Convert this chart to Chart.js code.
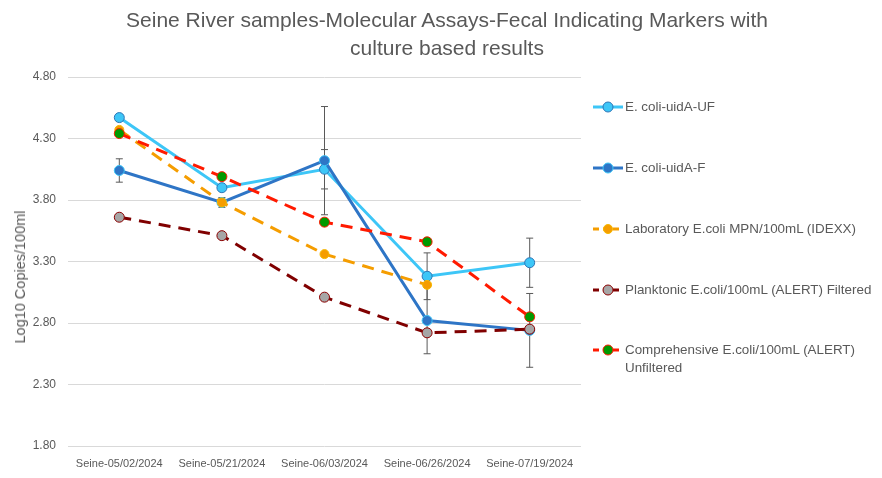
<!DOCTYPE html>
<html>
<head>
<meta charset="utf-8">
<script src="https://cdn.jsdelivr.net/npm/chart.js@4"></script>
<style>
  html, body { margin: 0; padding: 0; background: #fff; }
  #wrap { position: relative; width: 882px; height: 478px; }
  #title { position: absolute; left: 0; top: 6px; width: 894px; text-align: center; font-family: "Liberation Sans", Arial, sans-serif; font-size: 21px; line-height: 28px; color: #595959; }
  #ytitle { position: absolute; left: 20px; top: 277px; transform: translate(-50%, -50%) rotate(-90deg); white-space: nowrap; font-family: "Liberation Sans", Arial, sans-serif; font-size: 14.5px; color: #595959; }
  #legend { position: absolute; left: 593px; top: 0; font-family: "Liberation Sans", Arial, sans-serif; font-size: 13.4px; color: #595959; }
  .item { position: absolute; left: 0; display: flex; align-items: flex-start; white-space: nowrap; line-height: 18px; }
  .item svg { margin-top: 2px; margin-right: 2px; }
</style>
</head>
<body>
<div id="wrap">
  <canvas id="chart" width="882" height="478"></canvas>
  <div id="title">Seine River samples-Molecular Assays-Fecal Indicating Markers with<br>culture based results</div>
  <div id="ytitle">Log10 Copies/100ml</div>
  <div id="legend"></div>
</div>
<script>
// categories and series
const categories = ['Seine-05/02/2024', 'Seine-05/21/2024', 'Seine-06/03/2024', 'Seine-06/26/2024', 'Seine-07/19/2024'];
const ufValues = [4.47, 3.90, 4.05, 3.18, 3.29];
const fValues = [4.04, 3.78, 4.12, 2.82, 2.74];
const idexxValues = [4.37, 3.78, 3.36, 3.11, null];
const planktonicValues = [3.66, 3.51, 3.01, 2.72, 2.75];
const comprehensiveValues = [4.34, 3.99, 3.62, 3.46, 2.85];

// error bar half-widths (0 = none)
const ufErrors = [0, 0, 0.16, 0.19, 0.20];
const fErrors = [0.095, 0.04, 0.44, 0.27, 0.30];

const yTicks = [1.8, 2.3, 2.8, 3.3, 3.8, 4.3, 4.8];

const series = [
  { label: 'E. coli-uidA-UF', data: ufValues, errors: ufErrors, line: '#3DC6F7', fill: '#3DC6F7', edge: '#2E75B6', dash: [], r: 5 },
  { label: 'E. coli-uidA-F', data: fValues, errors: fErrors, line: '#2E75C6', fill: '#2E75C6', edge: '#3DC6F7', dash: [], r: 5 },
  { label: 'Laboratory E.coli MPN/100mL (IDEXX)', data: idexxValues, line: '#F59D00', fill: '#F59D00', edge: '#F5B800', dash: [12, 8], r: 4.5 },
  { label: 'Planktonic E.coli/100mL (ALERT) Filtered', data: planktonicValues, line: '#800000', fill: '#A6A6A6', edge: '#8B0000', dash: [12, 8], r: 5 },
  { label: ['Comprehensive E.coli/100mL (ALERT)', 'Unfiltered'], data: comprehensiveValues, line: '#FF1A00', fill: '#009A00', edge: '#FF1A00', dash: [12, 8], r: 5 }
];

const errorBars = {
  id: 'errorBars',
  beforeDatasetsDraw(chart) {
    const ctx = chart.ctx;
    const y = chart.scales.y;
    ctx.save();
    ctx.strokeStyle = '#595959';
    ctx.lineWidth = 1;
    chart.data.datasets.forEach((ds, i) => {
      if (!ds.errors) return;
      const meta = chart.getDatasetMeta(i);
      ds.errors.forEach((e, j) => {
        if (!e || ds.data[j] == null) return;
        const x = meta.data[j].x;
        const top = y.getPixelForValue(ds.data[j] + e);
        const bot = y.getPixelForValue(ds.data[j] - e);
        ctx.beginPath();
        ctx.moveTo(x, top); ctx.lineTo(x, bot);
        ctx.moveTo(x - 3.5, top); ctx.lineTo(x + 3.5, top);
        ctx.moveTo(x - 3.5, bot); ctx.lineTo(x + 3.5, bot);
        ctx.stroke();
      });
    });
    ctx.restore();
  }
};

const font = "'Liberation Sans', Arial, sans-serif";

new Chart(document.getElementById('chart').getContext('2d'), {
  type: 'line',
  data: {
    labels: categories,
    datasets: series.map(s => ({
      label: Array.isArray(s.label) ? s.label.join(' ') : s.label,
      data: s.data,
      errors: s.errors,
      borderColor: s.line,
      backgroundColor: s.fill,
      borderWidth: 3,
      borderDash: s.dash,
      pointBackgroundColor: s.fill,
      pointBorderColor: s.edge,
      pointBorderWidth: 1,
      pointRadius: s.r,
      tension: 0,
      spanGaps: false
    })).reverse()
  },
  options: {
    responsive: false,
    animation: false,
    layout: { padding: { left: 0, right: 301, top: 77, bottom: 0 } },
    plugins: {
      legend: { display: false },
      tooltip: { enabled: false },
      title: { display: false }
    },
    scales: {
      x: {
        offset: true,
        grid: { display: false },
        border: { display: false },
        afterFit(axis) { axis.height = 32; },
        ticks: { color: '#595959', font: { family: font, size: 11 }, maxRotation: 0, autoSkip: false, padding: 3 }
      },
      y: {
        min: 1.8,
        max: 4.8,
        afterBuildTicks(axis) { axis.ticks = yTicks.map(v => ({ value: v })); },
        afterFit(axis) { axis.width = 68; },
        grid: { color: '#D9D9D9', drawTicks: false },
        border: { display: false },
        ticks: { color: '#595959', font: { family: font, size: 12 }, padding: 12, callback: v => v.toFixed(2) },
        title: { display: false }
      }
    }
  },
  plugins: [errorBars]
});

// legend built from the same series list
const legend = document.getElementById('legend');
const legendTops = [98, 159, 220, 281, 341];
series.forEach((s, i) => {
  const div = document.createElement('div');
  div.className = 'item';
  div.style.top = legendTops[i] + 'px';
  const dash = s.dash.length ? 'stroke-dasharray="6 4"' : '';
  div.innerHTML =
    `<svg width="30" height="14"><line x1="0" y1="7" x2="30" y2="7" stroke="${s.line}" stroke-width="3" ${dash}/>` +
    `<circle cx="15" cy="7" r="${s.r}" fill="${s.fill}" stroke="${s.edge}" stroke-width="1"/></svg>` +
    `<span>${[].concat(s.label).join('<br>')}</span>`;
  legend.appendChild(div);
});
</script>
</body>
</html>
